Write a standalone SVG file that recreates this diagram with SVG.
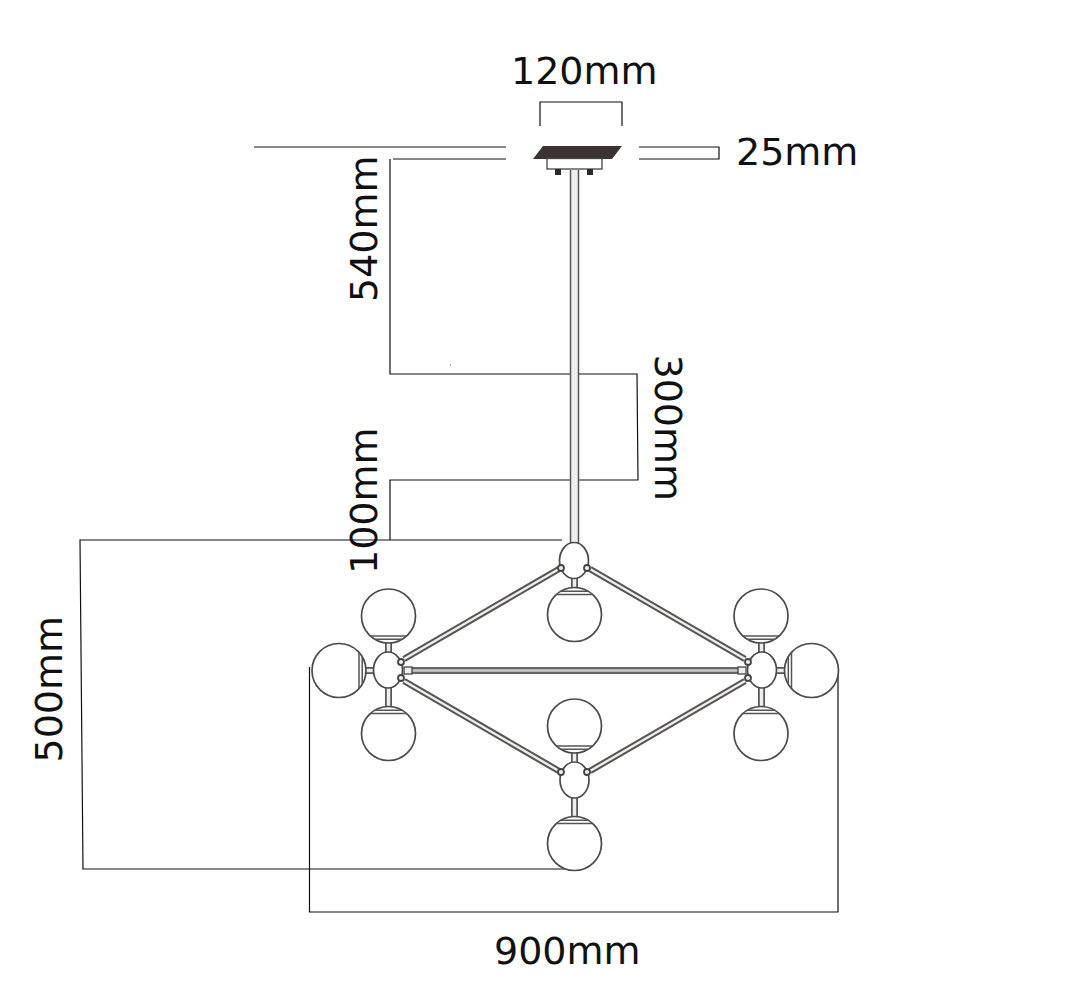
<svg xmlns="http://www.w3.org/2000/svg" xmlns:xlink="http://www.w3.org/1999/xlink" width="1080" height="1000" viewBox="0 0 1080 1000">
<style>
.dim{fill:none;stroke:#111;stroke-width:1.200}
.t{font-family:"DejaVu Sans",sans-serif;font-size:38px;fill:#111}
.g{fill:#fff;stroke:#4a4a4a;stroke-width:1.700}
.cap{fill:none;stroke:#555;stroke-width:1.500}
.ao{stroke:#5a5555;stroke-width:6.500;fill:none}
.ai{stroke:#eee;stroke-width:2.400;fill:none}
.k{fill:#eee;stroke:#444;stroke-width:1.800}
</style>
<defs>
<g id="globe">
<circle class="g" r="27"/>
<path class="cap" d="M-18.500 20H18.500M-14 23.200H14"/>
</g>
<path id="hub" class="g" d="M0-18C8.500-18 14.500-9 14.500 0C14.500 10 8 18 0 18C-8 18-14.500 10-14.500 0C-14.500-9-8.500-18 0-18Z"/>
</defs>
<rect width="1080" height="1000" fill="#fff"/>
<g id="connectors">
<path class="dim" d="M254 147H506M393 159H506M390 159V374H637L638 480H390V540"/>
<path class="dim" d="M540 126V102H622V126M639 147H719V159H639"/>
<path class="dim" d="M562 540H80L83 869H580"/>
<path class="dim" d="M309.500 667V912H838V675"/>
<path class="dim" d="M450 365h.8"/>
</g>
<g id="canopy">
<path d="M543 146H622L612 159H533Z" fill="#3b3331"/>
<rect x="547" y="158.500" width="55" height="10.500" fill="#fff" stroke="#444" stroke-width="1.300"/>
<rect x="555" y="169" width="6" height="6" fill="#2d2a2a"/>
<rect x="587" y="169" width="6" height="6" fill="#2d2a2a"/>
</g>
<g id="stem">
<path d="M574.500 170V544" stroke="#5a5555" stroke-width="9.500" fill="none"/>
<path d="M574.500 170V544" stroke="#eee" stroke-width="6.500" fill="none"/>
</g>
<g id="arms">
<path class="ao" d="M404 659L559 569M590 569L745 659M404 681L559 771M590 771L745 681"/>
<path class="ai" d="M404 659L559 569M590 569L745 659M404 681L559 771M590 771L745 681"/>
<path d="M406 670.500H742" stroke="#666" stroke-width="7" fill="none"/>
<path d="M406 670.500H742" stroke="#ccc" stroke-width="2.500" fill="none"/>
</g>
<g id="stubs">
<path class="ao" d="M574.500 578V588M574.500 753V762M574.500 798V817M388.500 643V652M388.500 688V707M761.500 643V652M761.500 688V707M366 670.500H374M776 670.500H785" style="stroke-width:7"/>
<path class="ai" d="M574.500 578V588M574.500 753V762M574.500 798V817M388.500 643V652M388.500 688V707M761.500 643V652M761.500 688V707M366 670.500H374M776 670.500H785" style="stroke-width:3.500"/>
<rect class="k" x="404" y="667" width="8" height="7" style="stroke-width:1.300"/>
<rect class="k" x="738" y="667" width="8" height="7" style="stroke-width:1.300"/>
</g>
<g id="hub-top">
<use xlink:href="#hub" href="#hub" transform="translate(574 560.500)"/>
<circle class="k" cx="561" cy="568" r="3"/><circle class="k" cx="587" cy="568" r="3"/>
<use xlink:href="#globe" href="#globe" transform="translate(574.500 614.500) rotate(180)"/>
</g>
<g id="hub-left">
<use xlink:href="#hub" href="#hub" transform="translate(388 670)"/>
<circle class="k" cx="401" cy="662" r="3"/><circle class="k" cx="401" cy="678" r="3"/>
<use xlink:href="#globe" href="#globe" transform="translate(388.500 616)"/>
<use xlink:href="#globe" href="#globe" transform="translate(339 670.500) rotate(-90)"/>
<use xlink:href="#globe" href="#globe" transform="translate(388.500 733.500) rotate(180)"/>
</g>
<g id="hub-right">
<use xlink:href="#hub" href="#hub" transform="translate(762 670)"/>
<circle class="k" cx="748" cy="662" r="3"/><circle class="k" cx="748" cy="678" r="3"/>
<use xlink:href="#globe" href="#globe" transform="translate(761 616)"/>
<use xlink:href="#globe" href="#globe" transform="translate(811.500 670.500) rotate(90)"/>
<use xlink:href="#globe" href="#globe" transform="translate(761 733.500) rotate(180)"/>
</g>
<g id="hub-bottom">
<use xlink:href="#hub" href="#hub" transform="translate(574.500 780)"/>
<circle class="k" cx="561" cy="772" r="3"/><circle class="k" cx="587" cy="772" r="3"/>
<use xlink:href="#globe" href="#globe" transform="translate(574.500 726)"/>
<use xlink:href="#globe" href="#globe" transform="translate(574.500 843.500) rotate(180)"/>
</g>
<g id="labels">
<text class="t" x="511" y="84">120mm</text>
<text class="t" x="736" y="165">25mm</text>
<text class="t" x="494" y="964">900mm</text>
<text class="t" transform="translate(377 302) rotate(-90)">540mm</text>
<text class="t" transform="translate(377 574) rotate(-90)">100mm</text>
<text class="t" transform="translate(62 762.500) rotate(-90)">500mm</text>
<text class="t" transform="translate(654.500 354.500) rotate(90)">300mm</text>
</g>
</svg>
